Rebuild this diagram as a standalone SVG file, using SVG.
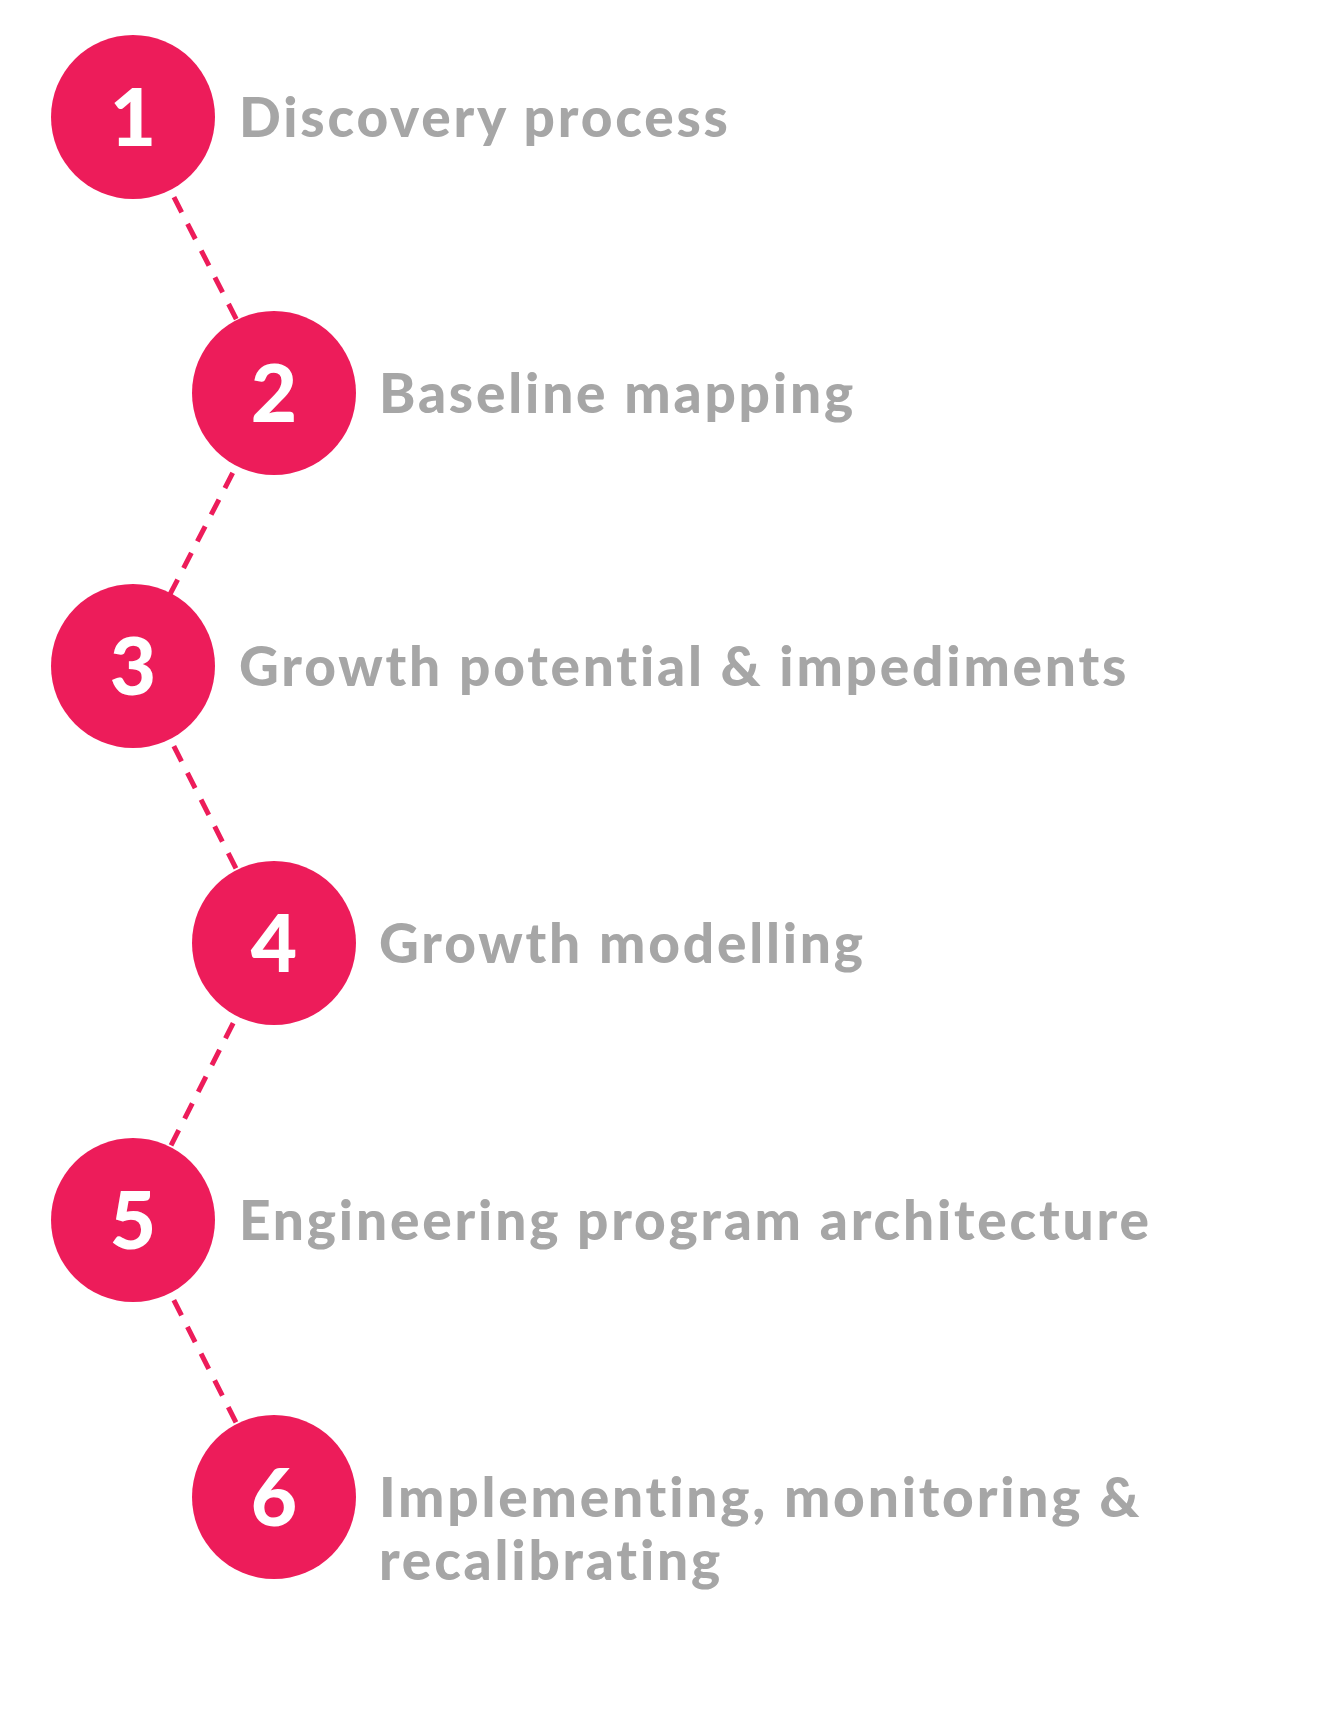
<svg xmlns="http://www.w3.org/2000/svg" width="1317" height="1711" viewBox="0 0 1317 1711">
<style>
.c{fill:#ed1c5a}
.n{fill:#fff;font-family:Lato,"Liberation Sans",sans-serif;font-weight:900;font-size:80px;text-anchor:middle}
.t{fill:#a6a6a6;font-family:Lato,"Liberation Sans",sans-serif;font-weight:900;font-size:55px;letter-spacing:2.8px}
.l{stroke:#ed1c5a;stroke-width:5;stroke-dasharray:17 13;fill:none}
</style>
<rect width="1317" height="1711" fill="#fff"/>
<g id="connectors">
<line class="l" x1="133" y1="117" x2="274" y2="393"/>
<line class="l" x1="274" y1="393" x2="133" y2="666"/>
<line class="l" x1="133" y1="666" x2="274" y2="943"/>
<line class="l" x1="274" y1="943" x2="133" y2="1220"/>
<line class="l" x1="133" y1="1220" x2="274" y2="1497"/>
</g>
<g id="n1"><circle class="c" cx="133" cy="117" r="82"/><text class="n" x="133" y="146">1</text><text class="t" x="239" y="137">Discovery process</text></g>
<g id="n2"><circle class="c" cx="274" cy="393" r="82"/><text class="n" x="274" y="422">2</text><text class="t" x="379" y="413">Baseline mapping</text></g>
<g id="n3"><circle class="c" cx="133" cy="666" r="82"/><text class="n" x="133" y="695">3</text><text class="t" x="239" y="686">Growth potential &amp; impediments</text></g>
<g id="n4"><circle class="c" cx="274" cy="943" r="82"/><text class="n" x="274" y="972">4</text><text class="t" x="379" y="963">Growth modelling</text></g>
<g id="n5"><circle class="c" cx="133" cy="1220" r="82"/><text class="n" x="133" y="1249">5</text><text class="t" x="239" y="1240">Engineering program architecture</text></g>
<g id="n6"><circle class="c" cx="274" cy="1497" r="82"/><text class="n" x="274" y="1526">6</text><text class="t" x="379" y="1517">Implementing, monitoring &amp;</text><text class="t" x="379" y="1580">recalibrating</text></g>
</svg>
